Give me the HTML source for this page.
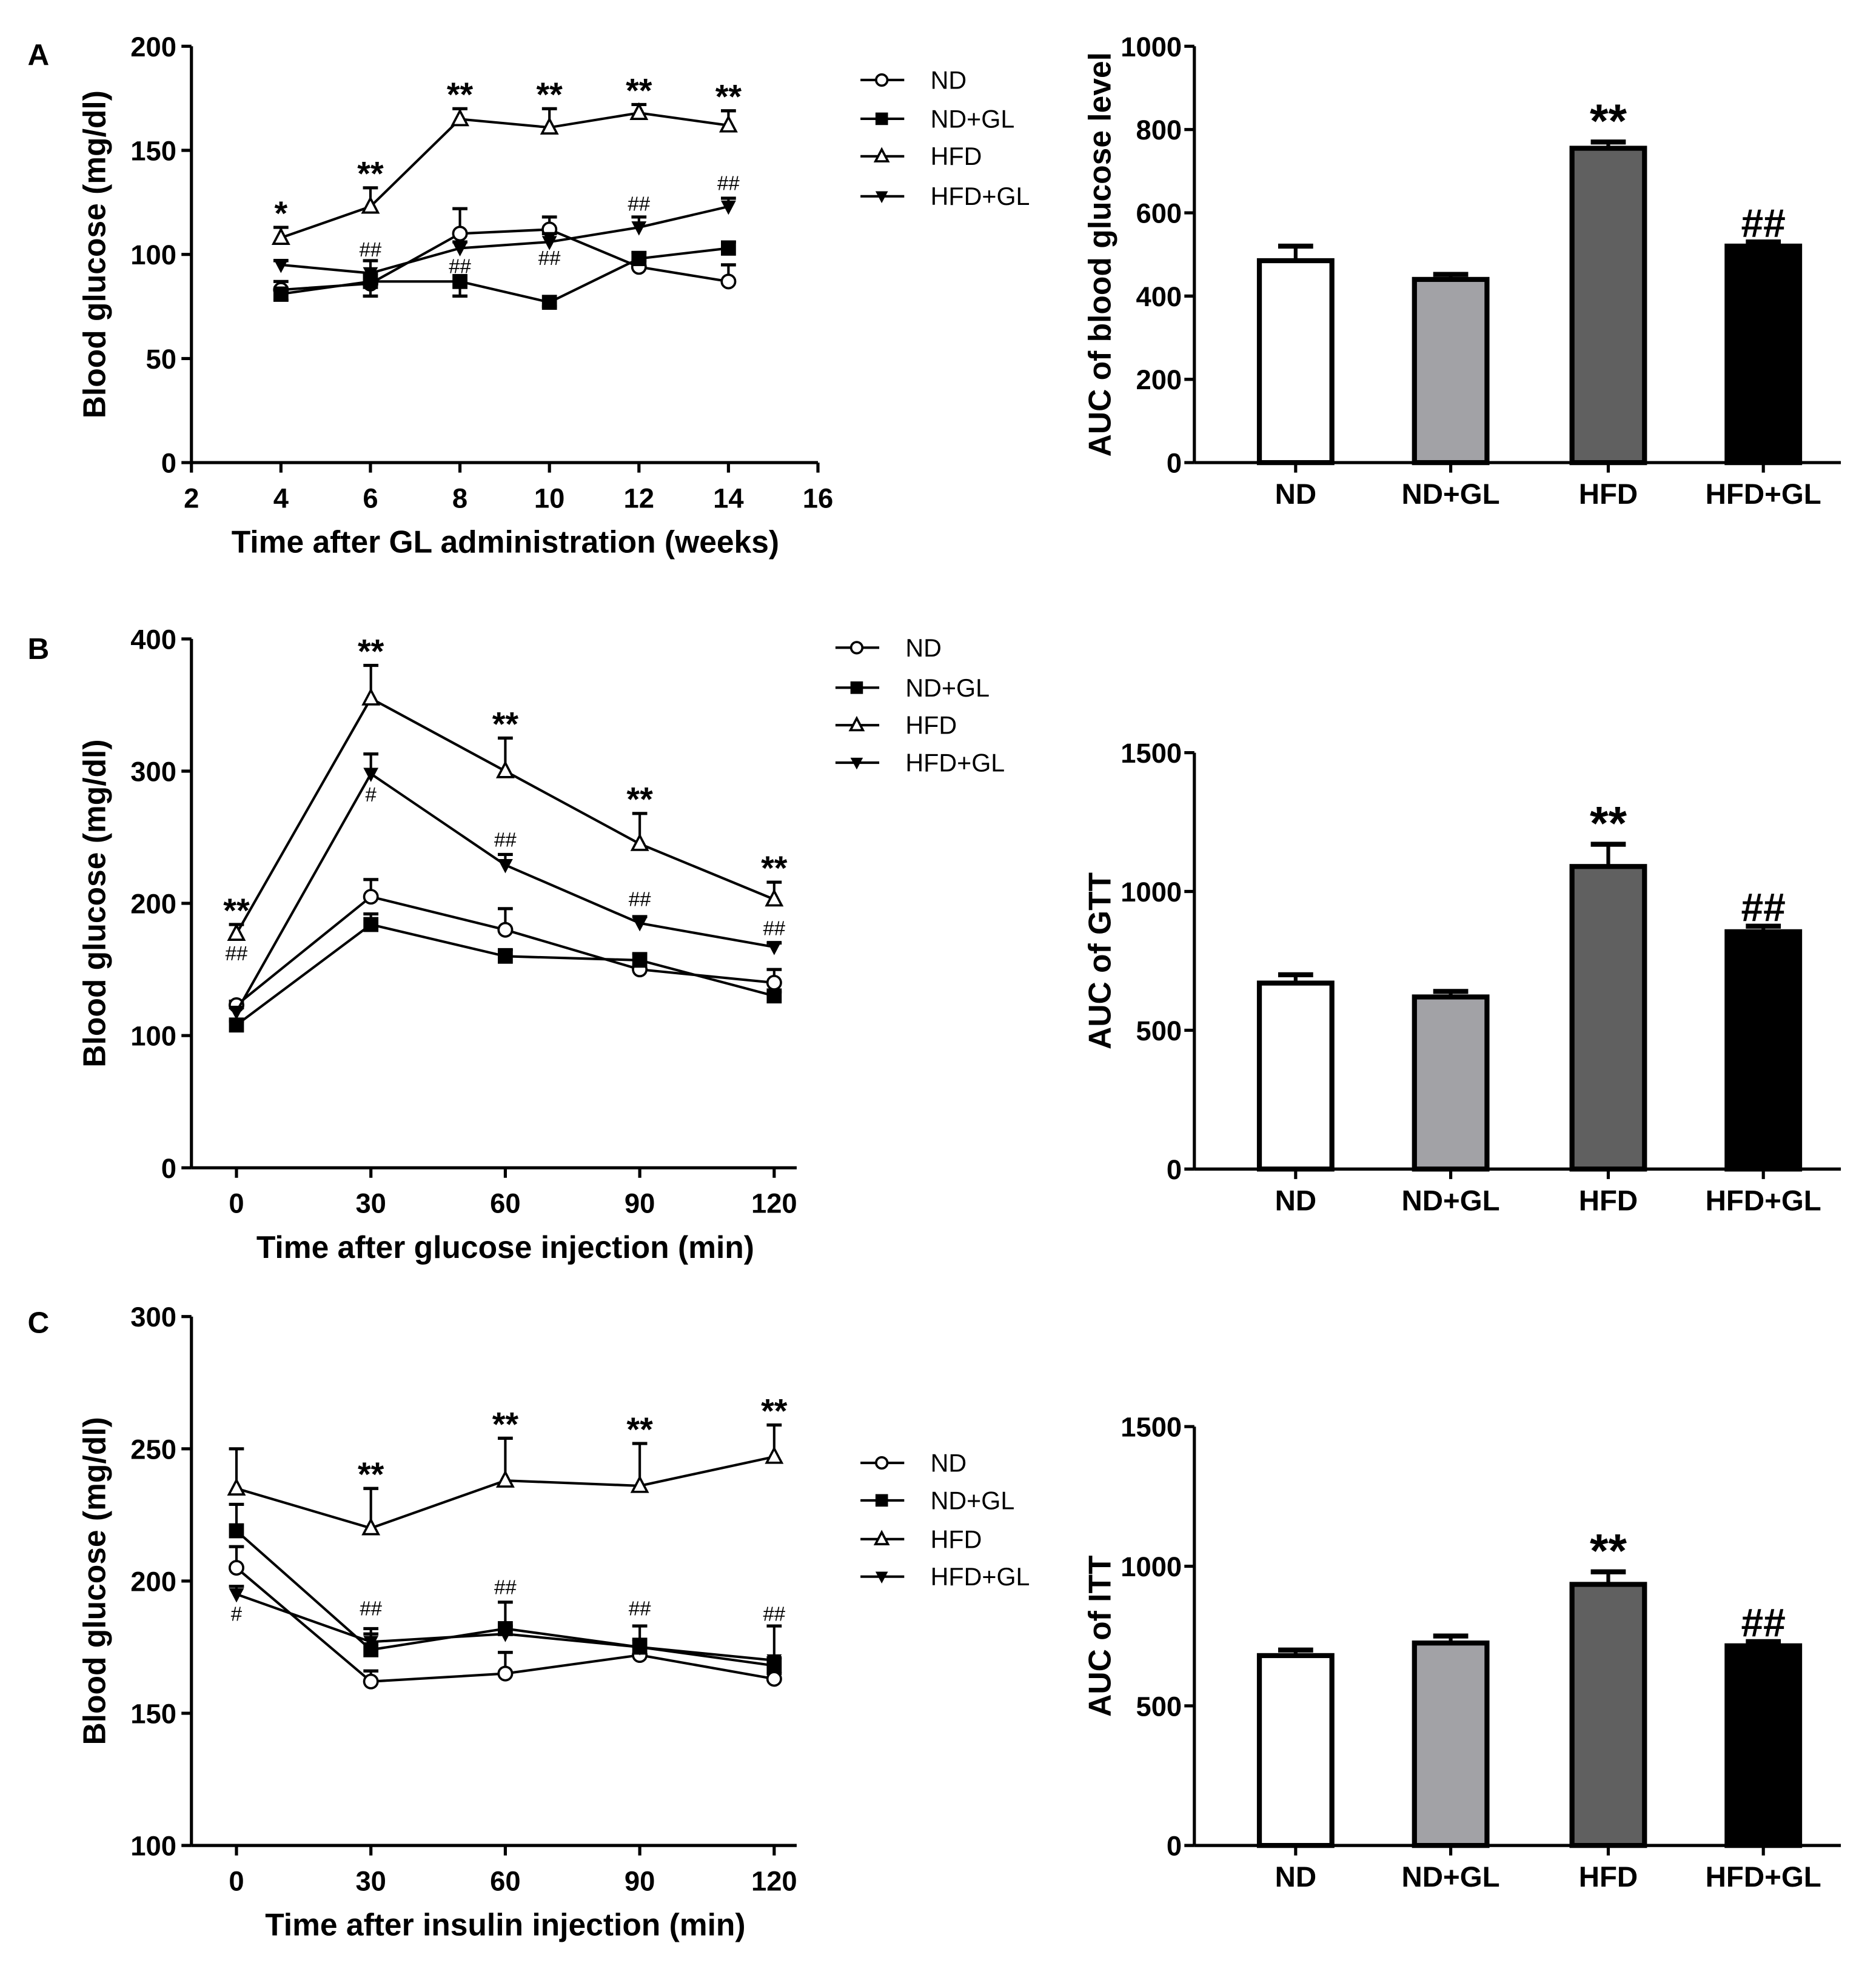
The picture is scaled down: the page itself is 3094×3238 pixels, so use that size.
<!DOCTYPE html>
<html><head><meta charset="utf-8"><style>
html,body{margin:0;padding:0;background:#fff}
svg{display:block}
text{font-family:"Liberation Sans",Arial,sans-serif;fill:#000}
</style></head><body>
<svg id="fig" xmlns="http://www.w3.org/2000/svg" width="3094" height="3238" viewBox="0 0 1500 1570">
<rect width="1500" height="1570" fill="#fff"/>
<text x="22" y="52" font-size="24" font-weight="bold">A</text>
<text x="22" y="527" font-size="24" font-weight="bold">B</text>
<text x="22" y="1066" font-size="24" font-weight="bold">C</text>
</svg>
<script>
// ---------- Data ----------
const seriesNames = ["ND","ND+GL","HFD","HFD+GL"];
// Panel A (weeks)
const aWeeks = [4,6,8,10,12,14];
const aND = [83,86,110,112,94,87];
const aNDerr = [4,5,12,6,3,8];
const aNDGL = [81,87,87,77,98,103];
const aNDGLerr = [-3,-7,-7,-2,3,3];
const aHFD = [108,123,165,161,168,162];
const aHFDerr = [5,9,5,9,4,7];
const aHFDGL = [95,91,103,106,113,123];
const aHFDGLerr = [2,6,3,4,5,4];
const aStars = ["*","**","**","**","**","**"];
const aHash = ["","##","##","##","##","##"];
const aHashVal = [0,99,91,95,121,131];
const aYTicks = [0,50,100,150,200];
const aXTicks = [2,4,6,8,10,12,14,16];
// Panel B (min)
const bTimes = [0,30,60,90,120];
const bND = [123,205,180,150,140];
const bNDerr = [3,13,16,3,10];
const bNDGL = [108,184,160,157,130];
const bNDGLerr = [3,8,5,5,3];
const bHFD = [177,355,300,245,203];
const bHFDerr = [7,25,25,23,13];
const bHFDGL = [118,298,229,185,167];
const bHFDGLerr = [3,15,8,5,3];
const bStars = ["**","**","**","**","**"];
const bHash = ["##","#","##","##","##"];
const bHashVal = [157,277,243,198,176];
const bYTicks = [0,100,200,300,400];
// Panel C (min)
const cTimes = [0,30,60,90,120];
const cND = [205,162,165,172,163];
const cNDerr = [8,4,8,3,2];
const cNDGL = [219,174,182,175,168];
const cNDGLerr = [10,8,10,8,3];
const cHFD = [235,220,238,236,247];
const cHFDerr = [15,15,16,16,12];
const cHFDGL = [195,177,180,175,170];
const cHFDGLerr = [3,3,3,3,13];
const cStars = ["","**","**","**","**"];
const cHash = ["#","##","##","##","##"];
const cHashVal = [185,187,195,187,185];
const cYTicks = [100,150,200,250,300];
const xTicksMin = [0,30,60,90,120];
// Bars
const barCats = ["ND","ND+GL","HFD","HFD+GL"];
const barA = [485,440,755,520];
const barAerr = [35,12,15,10];
const barB = [670,620,1090,855];
const barBerr = [30,20,80,20];
const barC = [680,725,935,715];
const barCerr = [20,25,45,15];
const barAnn = ["","","**","##"];
const barAYTicks = [0,200,400,600,800,1000];
const barBYTicks = [0,500,1000,1500];

const NS = "http://www.w3.org/2000/svg";
const svg = document.getElementById('fig');
function mk(tag, attrs, parent){
  const e = document.createElementNS(NS, tag);
  for (const k in attrs) e.setAttribute(k, attrs[k]);
  (parent||svg).appendChild(e);
  return e;
}
function lin(d0,d1,r0,r1){ return v => r0 + (v-d0)*(r1-r0)/(d1-d0); }

function marker(g, kind, x, y, s){
  let e;
  if (kind===0){ e = mk('circle',{cx:x,cy:y,r:s*0.9,fill:'#fff',stroke:'#000','stroke-width':1.8},g); }
  else if (kind===1){ e = mk('rect',{x:x-s,y:y-s,width:2*s,height:2*s,fill:'#000'},g); }
  else if (kind===2){ e = mk('path',{d:`M${x},${y-s*1.1}L${x+s},${y+s*0.8}L${x-s},${y+s*0.8}Z`,fill:'#fff',stroke:'#000','stroke-width':1.8},g); }
  else { e = mk('path',{d:`M${x},${y+s*1.1}L${x+s},${y-s*0.8}L${x-s},${y-s*0.8}Z`,fill:'#000'},g); }
  
  
  return e;
}

function linePanel(cfg){
  const g = mk('g',{});
  
  
  const X = lin(cfg.xd[0],cfg.xd[1],cfg.xr[0],cfg.xr[1]);
  const Y = lin(cfg.yd[0],cfg.yd[1],cfg.yr[0],cfg.yr[1]);
  const ya = mk('line',{x1:153,y1:cfg.yr[1],x2:153,y2:cfg.yr[0],stroke:'#000','stroke-width':2.5},g);
  
  
  const xa = mk('line',{x1:153,y1:cfg.yr[0],x2:cfg.xend,y2:cfg.yr[0],stroke:'#000','stroke-width':2.5},g);
  
  
  cfg.yticks.forEach(v=>{
    mk('line',{x1:145,y1:Y(v),x2:153,y2:Y(v),stroke:'#000','stroke-width':2.5},g);
    const t = mk('text',{x:141,y:Y(v)+8,'font-size':22,'font-weight':'bold','text-anchor':'end'},g);
    t.textContent = v;
    
    
  });
  cfg.xticks.forEach(v=>{
    mk('line',{x1:X(v),y1:cfg.yr[0],x2:X(v),y2:cfg.yr[0]+8,stroke:'#000','stroke-width':2.5},g);
    const t = mk('text',{x:X(v),y:cfg.yr[0]+36,'font-size':22,'font-weight':'bold','text-anchor':'middle'},g);
    t.textContent = v;
    
    
  });
  const xt = mk('text',{x:404,y:cfg.yr[0]+72,'font-size':25,'font-weight':'bold','text-anchor':'middle'},g);
  xt.textContent = cfg.xtitle;
  
  
  const cy = (cfg.yr[0]+cfg.yr[1])/2;
  const yt = mk('text',{x:0,y:0,'font-size':25,'font-weight':'bold','text-anchor':'middle',transform:`translate(84,${cy}) rotate(-90)`},g);
  yt.textContent = 'Blood glucose (mg/dl)';
  
  
  cfg.series.forEach((s,k)=>{
    const sg = mk('g',{},g);
    
    
    const pts = s.v.map((v,i)=>X(cfg.x[i])+','+Y(v)).join(' ');
    mk('polyline',{points:pts,fill:'none',stroke:'#000','stroke-width':2},sg);
    s.v.forEach((v,i)=>{
      const e = s.e[i];
      const x = X(cfg.x[i]);
      mk('line',{x1:x,y1:Y(v),x2:x,y2:Y(v+e),stroke:'#000','stroke-width':2},sg);
      mk('line',{x1:x-6,y1:Y(v+e),x2:x+6,y2:Y(v+e),stroke:'#000','stroke-width':2.5},sg);
    });
    s.v.forEach((v,i)=>marker(sg,k,X(cfg.x[i]),Y(v),6));
  });
  cfg.stars.forEach((s,i)=>{
    if(!s) return;
    const hv = cfg.series[2].v[i] + Math.max(cfg.series[2].e[i],0);
    const t = mk('text',{x:X(cfg.x[i]),y:Y(hv)-2,'font-size':27,'font-weight':'bold','text-anchor':'middle'},g);
    t.textContent = s;
    
    
  });
  cfg.hash.forEach((s,i)=>{
    if(!s) return;
    const t = mk('text',{x:X(cfg.x[i]),y:Y(cfg.hashVal[i]),'font-size':16,'font-family':'Liberation Serif','text-anchor':'middle'},g);
    t.textContent = s;
    
    
  });
  const lg = mk('g',{},g);
  
  
  seriesNames.forEach((n,k)=>{
    const y = cfg.legY[k];
    mk('line',{x1:cfg.legX,y1:y,x2:cfg.legX+35,y2:y,stroke:'#000','stroke-width':2},lg);
    marker(lg,k,cfg.legX+17,y,5);
    const t = mk('text',{x:cfg.legX+56,y:y+7,'font-size':20},lg);
    t.textContent = n;
    
    
  });
}

function barPanel(cfg){
  const g = mk('g',{});
  
  
  const Y = lin(cfg.yd[0],cfg.yd[1],cfg.yr[0],cfg.yr[1]);
  const cx = [1036,1160,1286,1410];
  const fills = ['#fff','#a2a2a6','#606060','#000'];
  const ya = mk('line',{x1:955,y1:cfg.yr[1],x2:955,y2:cfg.yr[0],stroke:'#000','stroke-width':2.5},g);
  
  
  const xa = mk('line',{x1:955,y1:cfg.yr[0],x2:1472,y2:cfg.yr[0],stroke:'#000','stroke-width':2.5},g);
  
  
  cfg.yticks.forEach(v=>{
    mk('line',{x1:947,y1:Y(v),x2:955,y2:Y(v),stroke:'#000','stroke-width':2.5},g);
    const t = mk('text',{x:945,y:Y(v)+8,'font-size':22,'font-weight':'bold','text-anchor':'end'},g);
    t.textContent = v;
    
    
  });
  cfg.vals.forEach((v,i)=>{
    const x = cx[i];
    const top = Y(v+cfg.err[i]);
    mk('line',{x1:x,y1:Y(v),x2:x,y2:top,stroke:'#000','stroke-width':3},g);
    mk('line',{x1:x-14,y1:top,x2:x+14,y2:top,stroke:'#000','stroke-width':4},g);
    const r = mk('rect',{x:x-29,y:Y(v),width:58,height:cfg.yr[0]-Y(v),fill:fills[i],stroke:'#000','stroke-width':4},g);
    
    
    mk('line',{x1:x,y1:cfg.yr[0],x2:x,y2:cfg.yr[0]+8,stroke:'#000','stroke-width':2.5},g);
    const t = mk('text',{x:x,y:cfg.yr[0]+33,'font-size':23,'font-weight':'bold','text-anchor':'middle'},g);
    t.textContent = barCats[i];
    
    
    if (barAnn[i]){
      const a = mk('text',{x:x,y:top-4,'font-size':barAnn[i]==='**'?38:32,'font-weight':'bold','text-anchor':'middle','font-family':barAnn[i]==='##'?'Liberation Serif':'Liberation Sans'},g);
      a.textContent = barAnn[i];
      
      
    }
  });
  const cy = (cfg.yr[0]+cfg.yr[1])/2;
  const yt = mk('text',{x:0,y:0,'font-size':25,'font-weight':'bold','text-anchor':'middle',transform:`translate(888,${cy}) rotate(-90)`},g);
  yt.textContent = cfg.ytitle;
  
  
}

linePanel({name:'line-chart-a',x:aWeeks,xd:[2,16],xr:[153,654],yd:[0,200],yr:[370,37],xend:654,
  yticks:aYTicks,xticks:aXTicks,xtitle:'Time after GL administration (weeks)',
  series:[{v:aND,e:aNDerr},{v:aNDGL,e:aNDGLerr},{v:aHFD,e:aHFDerr},{v:aHFDGL,e:aHFDGLerr}],
  stars:aStars,hash:aHash,hashVal:aHashVal,legX:688,legY:[64,95,125,157]});
linePanel({name:'line-chart-b',x:bTimes,xd:[0,120],xr:[189,619],yd:[0,400],yr:[934,511],xend:637,
  yticks:bYTicks,xticks:xTicksMin,xtitle:'Time after glucose injection (min)',
  series:[{v:bND,e:bNDerr},{v:bNDGL,e:bNDGLerr},{v:bHFD,e:bHFDerr},{v:bHFDGL,e:bHFDGLerr}],
  stars:bStars,hash:bHash,hashVal:bHashVal,legX:668,legY:[518,550,580,610]});
linePanel({name:'line-chart-c',x:cTimes,xd:[0,120],xr:[189,619],yd:[100,300],yr:[1476,1053],xend:637,
  yticks:cYTicks,xticks:xTicksMin,xtitle:'Time after insulin injection (min)',
  series:[{v:cND,e:cNDerr},{v:cNDGL,e:cNDGLerr},{v:cHFD,e:cHFDerr},{v:cHFDGL,e:cHFDGLerr}],
  stars:cStars,hash:cHash,hashVal:cHashVal,legX:688,legY:[1170,1200,1231,1261]});
barPanel({name:'bar-chart-a',vals:barA,err:barAerr,yd:[0,1000],yr:[370,37],yticks:barAYTicks,ytitle:'AUC of blood glucose level'});
barPanel({name:'bar-chart-b',vals:barB,err:barBerr,yd:[0,1500],yr:[935,602],yticks:barBYTicks,ytitle:'AUC of GTT'});
barPanel({name:'bar-chart-c',vals:barC,err:barCerr,yd:[0,1500],yr:[1476,1141],yticks:barBYTicks,ytitle:'AUC of ITT'});
</script>
</body></html>
